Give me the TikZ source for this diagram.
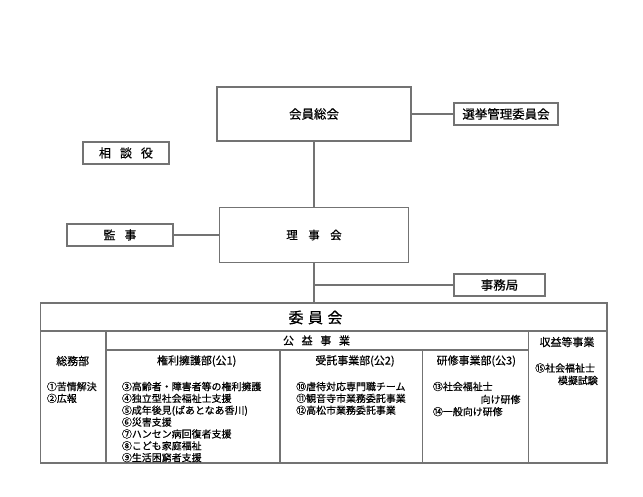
\documentclass[tikz,border=0pt]{standalone}
\usepackage{fontspec}
\setmainfont{Noto Sans CJK JP}[FakeBold=0.5]
\definecolor{lc}{RGB}{115,115,115}
\tikzset{
  box/.style={draw=lc, line width=1.2bp, fill=white, inner sep=0pt, font=\fontsize{12.5}{14}\selectfont},
  hd/.style={inner sep=0pt, font=\fontsize{11}{13}\selectfont},
  item/.style={inner sep=0pt, anchor=west, font=\fontsize{10}{12}\selectfont, text height=8.8bp, text depth=1.2bp},
  itemr/.style={item, anchor=east},
  conn/.style={draw=lc, line width=1.2bp},
}
\begin{document}
\begin{tikzpicture}[x=1bp,y=-1bp]
\useasboundingbox (0,0) rectangle (643,497);
% upper boxes
\node[box, minimum width=194bp, minimum height=54bp] (kaiin) at (314,114) {会員総会};
\node[box, minimum width=104bp, minimum height=22bp] (senkyo) at (506,114) {選挙管理委員会};
\node[box, minimum width=86bp, minimum height=22bp, font=\fontsize{12}{14}\selectfont] (sodan) at (126,153) {相\hspace{9bp}談\hspace{9bp}役};
\node[box, minimum width=189bp, minimum height=55bp, font=\fontsize{11.5}{13}\selectfont] (riji) at (314,235) {理\hspace{10.5bp}事\hspace{10.5bp}会};
\node[box, minimum width=106bp, minimum height=22bp, font=\fontsize{12}{14}\selectfont] (kanji) at (120,235) {監\hspace{9bp}事};
\node[box, minimum width=91bp, minimum height=22bp] (jimu) at (499.5,285) {事務局};
% committee outer box
\node[box, minimum width=566.5bp, minimum height=160bp] (outer) at (323.75,383) {};
% connectors
\draw[conn] (kaiin.east) -- (senkyo.west);
\draw[conn] (kaiin.south) -- (riji.north);
\draw[conn] (kanji.east) -- (riji.west);
\draw[conn] (riji.south) -- (riji.south |- outer.north);
\coordinate (branch) at (riji.south |- jimu.west);
\draw[conn] (branch) -- (jimu.west);
% grid inside committee box
\draw[conn] (40.5,331) -- (607,331);
\draw[conn] (106,331) -- (106,463);
\draw[conn] (528.3,331) -- (528.3,463);
\draw[conn] (106,350) -- (528.3,350);
\draw[conn] (280,350) -- (280,463);
\draw[conn] (422.7,350) -- (422.7,463);
% headers
\node[inner sep=0pt, font=\fontsize{15}{17}\selectfont] (iin) at (315.5,317.5) {委\hspace{4.5bp}員\hspace{4.5bp}会};
\node[hd] (koueki) at (316.5,340.5) {公\hspace{7.7bp}益\hspace{7.7bp}事\hspace{7.7bp}業};
\node[hd] (soumu) at (72.7,361) {総務部};
\node[hd] (kenri) at (196.7,361) {権利擁護部(公1)};
\node[hd] (jutaku) at (355,361) {受託事業部(公2)};
\node[hd] (kenshu) at (476.3,361) {研修事業部(公3)};
\node[hd] (shueki) at (567,342) {収益等事業};
% items
\node[item] (s1) at (46.7,386.5) {①苦情解決};
\node[item] (s2) at (46.7,398.35) {②広報};
\foreach \t [count=\i from 0] in {③高齢者・障害者等の権利擁護,④独立型社会福祉士支援,⑤成年後見(ぱあとなあ香川),⑥災害支援,⑦ハンセン病回復者支援,⑧こども家庭福祉,⑨生活困窮者支援}
  \node[item] (k\i) at (121.7,386.5+11.85*\i) {\t};
\foreach \t [count=\i from 0] in {⑩虐待対応専門職チーム,⑪観音寺市業務委託事業,⑫高松市業務委託事業}
  \node[item] (j\i) at (296,386.5+11.85*\i) {\t};
\node[item] (h1) at (432.7,386.5) {⑬社会福祉士};
\node[itemr] (h2) at (520.7,399.4) {向け研修};
\node[item] (h3) at (432.7,411.6) {⑭一般向け研修};
\node[item] (e1) at (535,368) {⑮社会福祉士};
\node[itemr] (e2) at (598,380.5) {模擬試験};
\end{tikzpicture}
\end{document}
